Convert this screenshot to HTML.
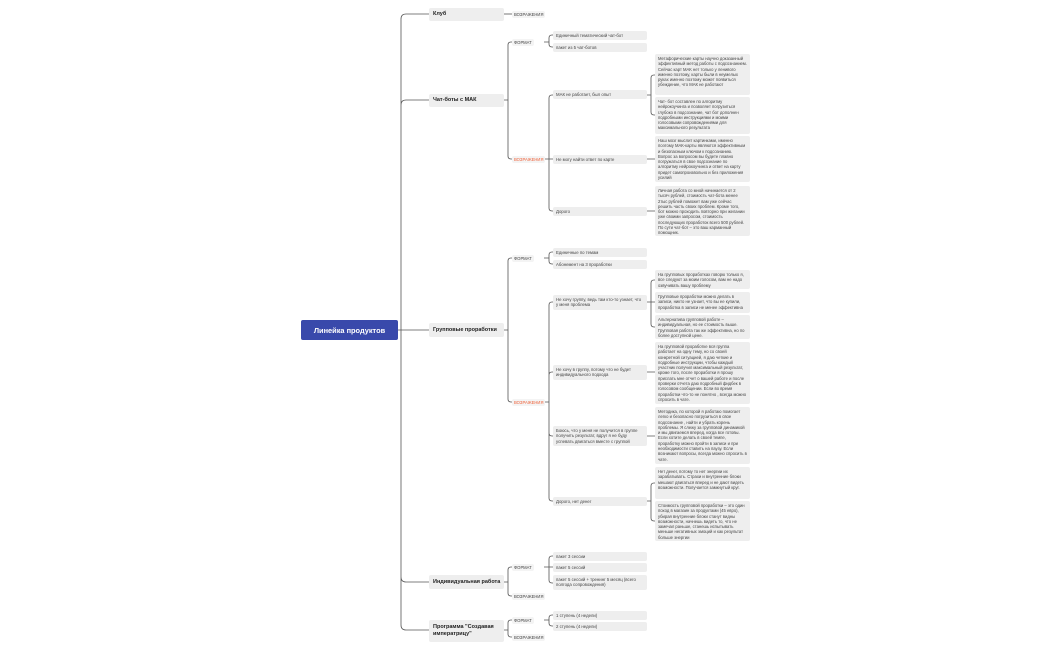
<!DOCTYPE html>
<html><head><meta charset="utf-8">
<style>
body{margin:0;width:1050px;height:650px;background:#fff;position:relative;overflow:hidden;font-family:"Liberation Sans","DejaVu Sans",sans-serif;}
.a{position:absolute;box-sizing:border-box;}
.root{background:#3949ab;color:#fff;font-weight:bold;font-size:7.4px;border-radius:2px;display:flex;align-items:center;justify-content:center;}
.n1{background:#eeeeee;color:#222;font-weight:bold;font-size:5.5px;border-radius:2px;padding:0 4px;display:flex;align-items:center;line-height:7px;}
.nw{white-space:nowrap;}
.lb{font-size:4.2px;color:#444;background:#f4f4f4;border-radius:2px;padding:1px 2px;line-height:5px;}
.or{color:#f0623a;}
.n3{background:#eeeeee;color:#444;font-size:4.3px;border-radius:2px;padding:2px 3px;line-height:5.3px;width:94px;left:553px;}
.n4{background:#eeeeee;color:#444;font-size:4.2px;border-radius:2px;padding:2px 3px;line-height:5.3px;width:95px;left:655px;}
svg{position:absolute;left:0;top:0;}
</style></head><body>
<svg width="1050" height="650" fill="none" stroke="#555" stroke-width="0.8">
<path d="M398,330H401M401,330V19Q401,14 406,14H429M401,330V105Q401,100 406,100H429M401,330H429M401,330V577Q401,582 406,582H429M401,330V625Q401,630 406,630H429"/>
<path d="M504,14H512"/>
<path d="M504,100H508M508,100V45Q508,42 511,42H513M508,100V156Q508,159 511,159H513"/>
<path d="M544,42H549M549,42V38Q549,35 552,35H553M549,42V44Q549,47 552,47H553"/>
<path d="M544,159H549M549,159V98Q549,95 552,95H553M549,159H553M549,159V208Q549,211 552,211H553"/>
<path d="M647,95H651M651,95V78Q651,75 654,75H655M651,95V112Q651,115 654,115H655"/>
<path d="M647,159H655M647,211H655"/>
<path d="M504,330H508M508,330V261Q508,258 511,258H513M508,330V399Q508,402 511,402H513"/>
<path d="M544,258H549M549,258V255Q549,252 552,252H553M549,258V261Q549,264 552,264H553"/>
<path d="M544,402H549M549,402V305Q549,302 552,302H553M549,402V375Q549,372 552,372H553M549,402V433Q549,436 552,436H553M549,402V498Q549,501 552,501H553"/>
<path d="M647,302H651M651,302V283Q651,280 654,280H655M651,302H655M651,302V324Q651,327 654,327H655"/>
<path d="M647,372H655M647,436H655"/>
<path d="M647,501H651M651,501V486Q651,483 654,483H655M651,501V518Q651,521 654,521H655"/>
<path d="M504,582H508M508,582V570Q508,567 511,567H513M508,582V593Q508,596 511,596H513"/>
<path d="M544,567H549M549,567V559Q549,556 552,556H553M549,567H553M549,567V580Q549,583 552,583H553"/>
<path d="M504,630H508M508,630V623Q508,620 511,620H513M508,630V634Q508,637 511,637H513"/>
<path d="M544,620H549M549,620V618Q549,615 552,615H553M549,620V623Q549,626 552,626H553"/>
</svg>

<div class="a root" style="left:301px;top:320px;width:97px;height:20px;">Линейка продуктов</div>

<div class="a n1 nw" style="left:429px;top:8px;width:75px;height:13px;">Клуб</div>
<div class="a n1 nw" style="left:429px;top:94px;width:75px;height:13px;">Чат-боты с МАК</div>
<div class="a n1 nw" style="left:429px;top:323px;width:75px;height:14px;">Групповые проработки</div>
<div class="a n1 nw" style="left:429px;top:575px;width:75px;height:14px;">Индивидуальная работа</div>
<div class="a n1" style="left:429px;top:620px;width:75px;height:22px;">Программа "Создавая императрицу"</div>

<div class="a lb" style="left:512px;top:11px;">ВОЗРАЖЕНИЯ</div>
<div class="a lb" style="left:512px;top:39px;">ФОРМАТ</div>
<div class="a lb or" style="left:512px;top:156px;">ВОЗРАЖЕНИЯ</div>
<div class="a lb" style="left:512px;top:255px;">ФОРМАТ</div>
<div class="a lb or" style="left:512px;top:399px;">ВОЗРАЖЕНИЯ</div>
<div class="a lb" style="left:512px;top:564px;">ФОРМАТ</div>
<div class="a lb" style="left:512px;top:593px;">ВОЗРАЖЕНИЯ</div>
<div class="a lb" style="left:512px;top:617px;">ФОРМАТ</div>
<div class="a lb" style="left:512px;top:634px;">ВОЗРАЖЕНИЯ</div>

<div class="a n3" style="top:31px;">Единичный тематический чат-бот</div>
<div class="a n3" style="top:43px;">пакет из 5 чат-ботов</div>
<div class="a n3" style="top:90px;">МАК не работает, был опыт</div>
<div class="a n3" style="top:155px;">Не могу найти ответ по карте</div>
<div class="a n3" style="top:207px;">Дорого</div>
<div class="a n3" style="top:248px;">Единичные по темам</div>
<div class="a n3" style="top:260px;">Абонемент на 3 проработки</div>
<div class="a n3" style="top:295px;">Не хочу группу, ведь там кто-то узнает, что у меня проблема</div>
<div class="a n3" style="top:365px;">Не хочу в группу, потому что не будет индивидуального подхода</div>
<div class="a n3" style="top:426px;">Боюсь, что у меня не получится в группе получить результат, вдруг я не буду успевать двигаться вместе с группой</div>
<div class="a n3" style="top:497px;">Дорого, нет денег</div>
<div class="a n3" style="top:552px;">пакет 3 сессии</div>
<div class="a n3" style="top:563px;">пакет 5 сессий</div>
<div class="a n3" style="top:575px;">пакет 5 сессий + тренинг 5 меcяц (всего полгода сопровождения)</div>
<div class="a n3" style="top:611px;">1 ступень (4 недели)</div>
<div class="a n3" style="top:622px;">2 ступень (4 недели)</div>

<div class="a n4" style="top:54px;height:41px;">Метафорические карты научно доказанный эффективный метод работы с подсознанием. Сейчас карт МАК нет только у ленивого именно поэтому, карты были в неумелых руках именно поэтому может появиться убеждение, что МАК не работают</div>
<div class="a n4" style="top:97px;height:37px;">Чат- бот составлен по алгоритму нейрокоучинга и позволяет погрузиться глубоко в подсознание, чат бот дополнен подробными инструкциями и моими голосовыми сопровождениями для максимального результата</div>
<div class="a n4" style="top:136px;height:46px;">Наш мозг мыслит картинками, именно поэтому МАК-карты являются эффективным и безопасным ключом к подсознанию. Вопрос за вопросом вы будете плавно погружаться в свое подсознание по алгоритму нейрокоучинга и ответ на карту придет самопроизвольно и без приложения усилий</div>
<div class="a n4" style="top:186px;height:50px;">Личная работа со мной начинается от 2 тысяч рублей, стоимость чат-бота менее 2тыс рублей поможет вам уже сейчас решить часть своих проблем. Кроме того, бот можно проходить повторно при желании уже своими запросом, стоимость последующих проработок всего 500 рублей. По сути чат-бот – это ваш карманный помощник.</div>
<div class="a n4" style="top:270px;height:19px;">На групповых проработках говорю только я, все следуют за моим голосом, вам не надо озвучивать вашу проблему</div>
<div class="a n4" style="top:292px;height:21px;">Групповые проработки можно делать в записи, никто не узнает, что вы ее купили, проработка в записи не менее эффективна</div>
<div class="a n4" style="top:315px;height:24px;">Альтернатива групповой работе – индивидуальная, но ее стоимость выше. Групповая работа так же эффективна, но по более доступной цене.</div>
<div class="a n4" style="top:342px;height:62px;">На групповой проработке вся группа работает на одну тему, но со своей конкретной ситуацией, я даю четкие и подробные инструкции, чтобы каждый участник получил максимальный результат, кроме того, после проработки я прошу прислать мне отчет о вашей работе и после проверки отчета даю подробный фидбек в голосовом сообщении. Если во время проработки что-то не понятно , всегда можно спросить в чате.</div>
<div class="a n4" style="top:407px;height:57px;">Методика, по которой я работаю помогает легко и безопасно погрузиться в свое подсознание , найти и убрать корень проблемы. Я слежу за групповой динамикой и мы двигаемся вперед, когда все готовы. Если хотите делать в своей темпе, проработку можно пройти в записи и при необходимости ставить на паузу. Если возникают вопросы, всегда можно спросить в чате.</div>
<div class="a n4" style="top:467px;height:32px;">Нет денег, потому то нет энергии их зарабатывать. Страхи и внутренние блоки мешают двигаться вперед и не дают видеть возможности. Получается замкнутый круг.</div>
<div class="a n4" style="top:501px;height:40px;">Стоимость групповой проработки – это один поход в магазин за продуктами (45 евро), убирая внутренние блоки станут видны возможности, начнешь видеть то, что не замечал раньше, станешь испытывать меньше негативных эмоций и как результат больше энергии</div>
</body></html>
